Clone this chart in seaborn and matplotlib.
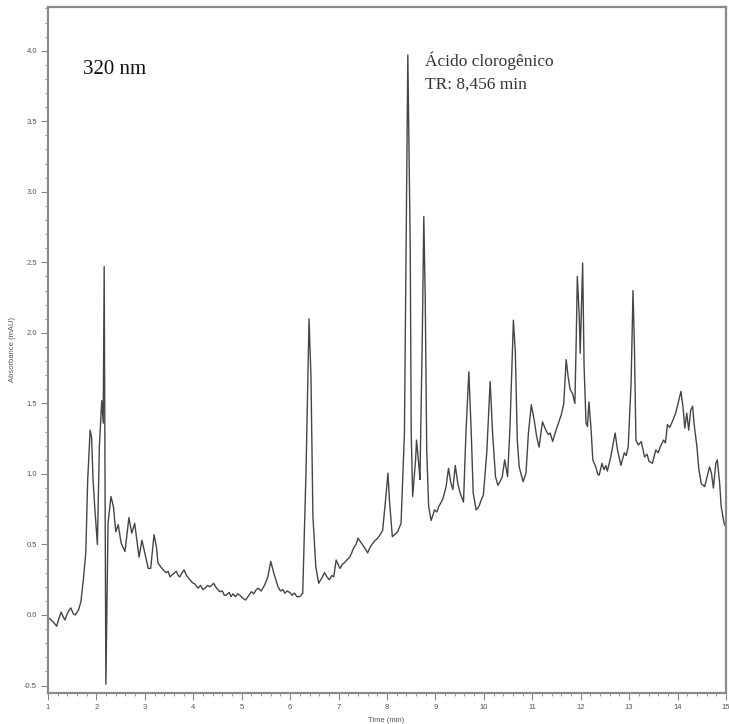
import pandas as pd
import seaborn as sns
import matplotlib.pyplot as plt
from matplotlib.ticker import MultipleLocator, FormatStrFormatter

# 色谱图数据（从图上读取的时间/吸光度点）
time_min = [
    1.00, 1.05, 1.11, 1.18, 1.22, 1.27, 1.31, 1.35, 1.41, 1.47, 1.52, 1.56, 1.63, 1.68, 1.73,
    1.78, 1.82, 1.87, 1.90, 1.93, 1.97, 2.02, 2.06, 2.11, 2.14, 2.16, 2.195, 2.24, 2.30, 2.35,
    2.40, 2.45, 2.51, 2.59, 2.67, 2.73, 2.79, 2.88, 2.94, 3.07, 3.12, 3.19, 3.24, 3.27, 3.33,
    3.38, 3.44, 3.48, 3.52, 3.58, 3.65, 3.69, 3.72, 3.77, 3.81, 3.86, 3.93, 3.98, 4.03, 4.10,
    4.15, 4.20, 4.24, 4.30, 4.34, 4.38, 4.42, 4.48, 4.55, 4.60, 4.64, 4.68, 4.74, 4.78, 4.82,
    4.87, 4.92, 4.96, 5.02, 5.08, 5.13, 5.20, 5.25, 5.30, 5.34, 5.40, 5.47, 5.54, 5.60, 5.66,
    5.75, 5.80, 5.85, 5.89, 5.94, 5.99, 6.04, 6.09, 6.14, 6.20, 6.26, 6.33, 6.39, 6.43, 6.47,
    6.53, 6.59, 6.65, 6.71, 6.76, 6.81, 6.86, 6.90, 6.95, 7.00, 7.03, 7.08, 7.12, 7.17, 7.23,
    7.27, 7.31, 7.36, 7.40, 7.45, 7.49, 7.55, 7.60, 7.65, 7.71, 7.76, 7.81, 7.86, 7.91, 7.97,
    8.02, 8.05, 8.11, 8.16, 8.22, 8.29, 8.36, 8.43, 8.48, 8.50, 8.53, 8.59, 8.61, 8.66, 8.68,
    8.73, 8.76, 8.79, 8.82, 8.86, 8.91, 8.95, 8.98, 9.03, 9.07, 9.12, 9.16, 9.22, 9.27, 9.32,
    9.36, 9.41, 9.46, 9.51, 9.58, 9.63, 9.69, 9.74, 9.78, 9.84, 9.88, 9.91, 9.95, 9.99, 10.06,
    10.13, 10.18, 10.24, 10.29, 10.34, 10.38, 10.43, 10.49, 10.54, 10.61, 10.65, 10.69, 10.73,
    10.81, 10.87, 10.92, 10.98, 11.04, 11.09, 11.14, 11.21, 11.28, 11.33, 11.37, 11.42, 11.49,
    11.56, 11.60, 11.65, 11.70, 11.74, 11.78, 11.83, 11.88, 11.91, 11.93, 11.97, 11.99, 12.02,
    12.04, 12.07, 12.11, 12.14, 12.17, 12.21, 12.25, 12.31, 12.35, 12.38, 12.44, 12.48, 12.52,
    12.55, 12.62, 12.71, 12.76, 12.83, 12.90, 12.94, 12.98, 13.04, 13.08, 13.11, 13.14, 13.19,
    13.25, 13.32, 13.37, 13.41, 13.48, 13.55, 13.60, 13.64, 13.71, 13.75, 13.79, 13.84, 13.89,
    13.96, 14.01, 14.07, 14.11, 14.15, 14.19, 14.23, 14.27, 14.31, 14.34, 14.40, 14.44, 14.49,
    14.56, 14.61, 14.66, 14.70, 14.74, 14.79, 14.82, 14.87, 14.90, 14.96, 15.00,
]
absorbance = [
    -0.02, -0.03, -0.05, -0.08, -0.03, 0.02, -0.01, -0.035, 0.02, 0.05, 0.01, 0.00, 0.035, 0.095, 0.25,
    0.44, 0.96, 1.31, 1.26, 0.96, 0.74, 0.50, 1.19, 1.52, 1.36, 2.47, -0.49, 0.65, 0.84, 0.77,
    0.59, 0.64, 0.51, 0.45, 0.69, 0.58, 0.65, 0.41, 0.53, 0.33, 0.33, 0.57, 0.48, 0.37, 0.34,
    0.32, 0.30, 0.31, 0.27, 0.29, 0.31, 0.28, 0.27, 0.30, 0.32, 0.28, 0.25, 0.23, 0.22, 0.19,
    0.21, 0.18, 0.19, 0.21, 0.20, 0.21, 0.225, 0.19, 0.165, 0.17, 0.14, 0.14, 0.16, 0.13, 0.15,
    0.13, 0.15, 0.14, 0.12, 0.106, 0.13, 0.165, 0.15, 0.18, 0.19, 0.17, 0.21, 0.27, 0.38, 0.30,
    0.20, 0.17, 0.18, 0.155, 0.17, 0.16, 0.14, 0.155, 0.13, 0.13, 0.155, 1.05, 2.10, 1.69, 0.70,
    0.34, 0.225, 0.26, 0.30, 0.27, 0.25, 0.28, 0.27, 0.39, 0.35, 0.33, 0.36, 0.37, 0.39, 0.41,
    0.44, 0.475, 0.50, 0.545, 0.52, 0.50, 0.47, 0.44, 0.48, 0.51, 0.53, 0.545, 0.57, 0.60, 0.815,
    1.005, 0.815, 0.555, 0.57, 0.59, 0.65, 1.29, 3.97, 2.59, 1.29, 0.84, 1.10, 1.24, 1.05, 0.96,
    2.00, 2.825, 2.23, 1.17, 0.77, 0.67, 0.71, 0.745, 0.73, 0.77, 0.80, 0.83, 0.91, 1.04, 0.935,
    0.89, 1.06, 0.935, 0.865, 0.80, 1.29, 1.725, 1.29, 0.865, 0.745, 0.76, 0.78, 0.82, 0.85, 1.15,
    1.655, 1.29, 0.98, 0.92, 0.95, 0.98, 1.10, 0.98, 1.335, 2.09, 1.86, 1.24, 1.05,
    0.945, 1.005, 1.29, 1.49, 1.38, 1.265, 1.19, 1.37, 1.31, 1.28, 1.29, 1.23, 1.31,
    1.38, 1.42, 1.50, 1.81, 1.69, 1.60, 1.57, 1.50, 2.00, 2.40, 2.115, 1.855, 2.23,
    2.495, 1.76, 1.36, 1.335, 1.51, 1.335, 1.10, 1.05, 1.00, 0.99, 1.075, 1.03, 1.06,
    1.02, 1.12, 1.29, 1.17, 1.06, 1.15, 1.13, 1.19, 1.64, 2.30, 1.88, 1.24, 1.205,
    1.23, 1.12, 1.14, 1.09, 1.075, 1.17, 1.15, 1.19, 1.24, 1.22, 1.35, 1.33, 1.37,
    1.43, 1.50, 1.585, 1.48, 1.325, 1.43, 1.31, 1.45, 1.48, 1.36, 1.19, 1.03, 0.93,
    0.91, 0.98, 1.05, 1.005, 0.90, 1.075, 1.10, 0.93, 0.77, 0.65, 0.62,
]

df = pd.DataFrame({'time': time_min, 'abs': absorbance})

sns.set_style('ticks')
plt.rcParams['font.family'] = ['Liberation Sans', 'DejaVu Sans']

fig = plt.figure(figsize=(7.29, 7.24), dpi=100)
ax = fig.add_axes([48 / 729, 1 - 693 / 724, 678 / 729, 686 / 724])

sns.lineplot(data=df, x='time', y='abs', ax=ax, sort=False, estimator=None,
             color='#454545', linewidth=1.0)

ax.set_xlim(1, 15)
ax.set_ylim(-0.553, 4.31)

# 刻度
ax.xaxis.set_major_locator(MultipleLocator(1))
ax.xaxis.set_minor_locator(MultipleLocator(0.2))
ax.yaxis.set_major_locator(MultipleLocator(0.5))
ax.yaxis.set_minor_locator(MultipleLocator(0.1))
ax.yaxis.set_major_formatter(FormatStrFormatter('%.1f'))
ax.tick_params(which='major', length=5, width=0.8, color='#888888',
               labelsize=5.5, labelcolor='#555555', pad=3)
ax.tick_params(which='minor', length=2.5, width=0.6, color='#888888')

for s in ax.spines.values():
    s.set_color('#8a8a8a')
    s.set_linewidth(1.6)

ax.set_xlabel('Time (min)', fontsize=5.5, color='#555555')
ax.set_ylabel('Absorbance (mAU)', fontsize=5.5, color='#555555')
ax.xaxis.set_label_coords(0.498, -0.035)
ax.yaxis.set_label_coords(-0.047, 0.5)

# 文字标注
ax.text(1.72, 3.87, '320 nm', fontsize=15, family=['Liberation Serif'],
        color='#111111', va='center')
ax.text(8.78, 3.93, 'Ácido clorogênico', fontsize=12.5, family=['Liberation Serif'],
        color='#333333', va='center')
ax.text(8.78, 3.76, 'TR: 8,456 min', fontsize=12.5, family=['Liberation Serif'],
        color='#333333', va='center')

fig.savefig('out.png', dpi=100)
